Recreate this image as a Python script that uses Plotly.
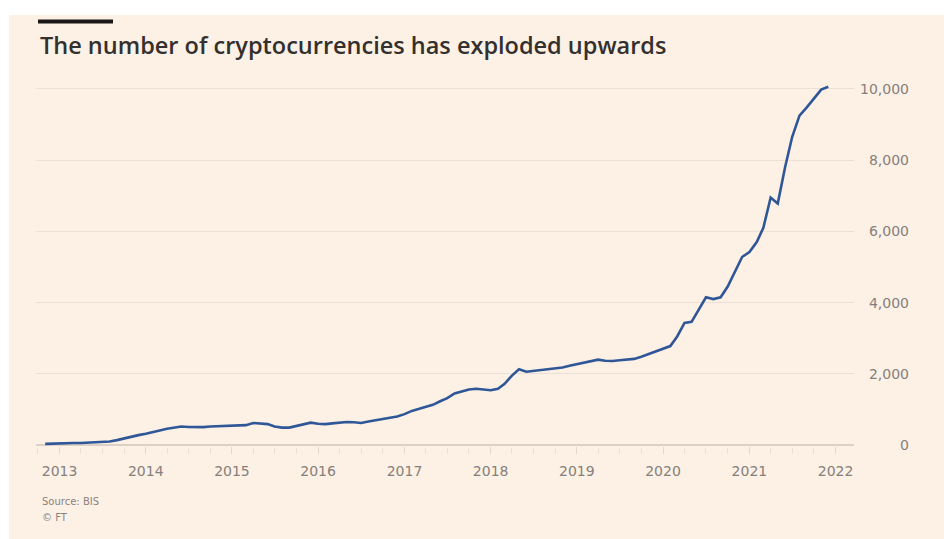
import pandas as pd
import plotly.graph_objects as go

# ---- data (monthly, Nov 2012 - Dec 2021) ----
start_month = "2012-11-01"
counts = [
    35, 45,
    50, 55, 60, 60, 65, 70, 80, 100, 140, 190, 240, 280,            # 2013
    320, 360, 410, 460, 500, 520, 510, 500, 505, 520, 530, 540,     # 2014
    550, 555, 560, 620, 610, 590, 520, 490, 490, 540, 590, 630,     # 2015
    600, 590, 610, 630, 650, 640, 620, 660, 700, 730, 760, 800,     # 2016
    870, 960, 1010, 1060, 1130, 1230, 1320, 1450, 1510, 1560, 1580, 1570,  # 2017
    1540, 1580, 1720, 1950, 2130, 2060, 2080, 2100, 2120, 2140, 2180, 2230,  # 2018
    2270, 2320, 2360, 2400, 2370, 2360, 2380, 2400, 2420, 2480, 2560, 2620,  # 2019
    2700, 2780, 3050, 3430, 3460, 3800, 4150, 4100, 4150, 4450, 4850, 5280,  # 2020
    5420, 5700, 6100, 6950, 6780, 7800, 8650, 9250, 9480, 9720, 9980, 10060, # 2021
]
dates = pd.date_range(start_month, periods=len(counts), freq="MS")

y_ticks = [0, 2000, 4000, 6000, 8000, 10000]
title_text = "The number of cryptocurrencies has exploded upwards"
source_text = "Source: BIS"
credit_text = "© FT"

# ---- styling ----
BG = "#FDF0E5"
LINE = "#2f5798"
GRID = "#ebe0d6"
TICKCOL = "#85807b"
FONT = "DejaVu Sans"

W, H = 944, 539
ML, MR, MT, MB = 36, 32, 80, 85
PW = W - ML - MR
PH = H - MT - MB

def px_x(p):
    return (p - ML) / PW

def px_y(p):
    return (H - MB - p) / PH

fig = go.Figure()
fig.add_trace(go.Scatter(
    x=dates, y=counts, mode="lines",
    line=dict(color=LINE, width=2.6),
    hoverinfo="skip", showlegend=False,
))

fig.update_layout(
    width=W, height=H,
    margin=dict(l=ML, r=MR, t=MT, b=MB, pad=0),
    paper_bgcolor="white",
    plot_bgcolor="rgba(0,0,0,0)",
    font=dict(family=FONT, color=TICKCOL, size=13),
    title=dict(
        text=title_text,
        x=40 / W, xanchor="left", xref="container",
        y=1 - 46 / H, yanchor="middle", yref="container",
        font=dict(family="Open Sans", size=23.5, color="#33302e", weight=600),
    ),
    xaxis=dict(
        type="date",
        domain=[0, (854 - ML) / PW],
        range=["2012-09-23", "2022-03-20"],
        tick0="2013-01-01", dtick="M12",
        tickformat="%Y",
        ticks="inside", ticklen=7, tickcolor="#e3d6cb", tickwidth=1,
        minor=dict(dtick="M3", ticks="inside", ticklen=6, tickcolor="#ece0d6", tickwidth=1),
        showgrid=False, showline=False, zeroline=False,
        tickfont=dict(family=FONT, size=14, color=TICKCOL),
        ticklabelstandoff=7,
    ),
    yaxis=dict(
        range=[-250, 10250],
        tickvals=y_ticks,
        tickformat=",",
        side="right",
        anchor="free", position=1,
        ticklabelposition="inside",
        ticks="",
        showgrid=True, gridcolor=GRID, gridwidth=1,
        zeroline=True, zerolinecolor="#ddd0c4", zerolinewidth=1.5,
        showline=False,
        tickfont=dict(family=FONT, size=14, color=TICKCOL),
    ),
    shapes=[
        dict(type="rect", xref="paper", yref="paper", layer="below",
             x0=px_x(9), x1=px_x(W + 5), y0=px_y(H + 5), y1=px_y(15),
             fillcolor=BG, line=dict(width=0)),
        dict(type="line", xref="paper", yref="paper",
             x0=px_x(38), x1=px_x(113), y0=px_y(21.5), y1=px_y(21.5),
             line=dict(color="#1a1817", width=4)),
    ],
    annotations=[
        dict(text=source_text, xref="paper", yref="paper",
             x=px_x(40), y=px_y(501), xanchor="left", yanchor="middle",
             showarrow=False, font=dict(family=FONT, size=10, color="#8a847f")),
        dict(text=credit_text, xref="paper", yref="paper",
             x=px_x(40), y=px_y(517), xanchor="left", yanchor="middle",
             showarrow=False, font=dict(family=FONT, size=10, color="#8a847f")),
    ],
)

fig.write_html("out.html")
